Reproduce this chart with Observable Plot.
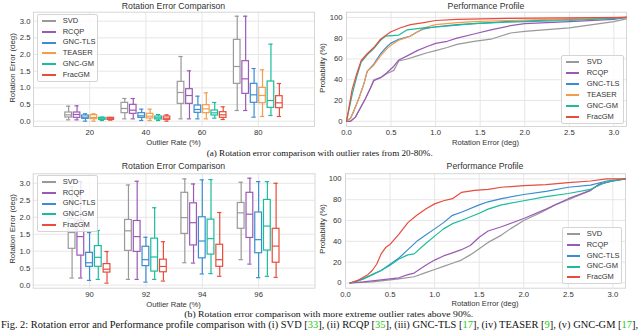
<!DOCTYPE html>
<html><head><meta charset="utf-8">
<script src="https://cdn.jsdelivr.net/npm/d3@7"></script>
<script src="https://cdn.jsdelivr.net/npm/@observablehq/plot@0.6"></script>
<style>
body{margin:0;background:#fff;}
#fig{position:relative;width:640px;height:331px;overflow:hidden;background:#fff;font-family:"Liberation Sans",Arial,sans-serif;color:#333;}
.pan{position:absolute;}
.pan svg{overflow:visible;}
.t{position:absolute;white-space:nowrap;transform:translate(-50%,-50%);line-height:1;}
.rot{transform:translate(-50%,-50%) rotate(-90deg);}
.leg{position:absolute;background:rgba(255,255,255,0.8);border:1px solid #d4d4d4;border-radius:2px;box-sizing:border-box;}
.leg .sw{position:absolute;height:1.5px;}
.leg .lt{position:absolute;font-size:7.5px;line-height:1;transform:translateY(-50%);color:#333;white-space:nowrap;}
#cap{position:absolute;left:0;top:0;}
</style></head>
<body><div id="fig"></div>
<script>
// ---------- data ----------
const methodsA = ["SVD","RCQP","GNC-TLS","TEASER","GNC-GM","FracGM"];
const colorsA = ["#999999","#9b59b6","#3a8dd0","#f39c4a","#1abc9c","#e74c3c"];
const methodsB = ["SVD","RCQP","GNC-TLS","GNC-GM","FracGM"];
const colorsB = ["#999999","#9b59b6","#3a8dd0","#1abc9c","#e74c3c"];
const ratesA = [20,40,60,80];
const ratesB = [90,92,94,96];
// box stats per rate: [min, q1, median, q3, max]
const svdA = [[0.04,0.11,0.19,0.26,0.45],[0.07,0.24,0.38,0.55,0.68],[0.07,0.52,0.86,1.18,1.94],[0.32,1.12,1.64,2.44,3.15]];
const rcqpA = [[0.04,0.10,0.20,0.26,0.46],[0.07,0.22,0.33,0.49,0.68],[0.07,0.52,0.77,0.96,1.51],[0.32,0.82,1.27,1.80,3.15]];
const tlsA = [[0.0,0.07,0.12,0.17,0.22],[0.02,0.10,0.16,0.24,0.36],[0.07,0.25,0.35,0.47,0.75],[0.12,0.55,0.79,1.12,1.58]];
const teaserA = [[0.0,0.06,0.11,0.18,0.22],[0.02,0.08,0.15,0.22,0.36],[0.07,0.24,0.37,0.48,0.85],[0.14,0.54,0.77,1.00,1.54]];
const gmA = [[0.02,0.04,0.07,0.10,0.12],[0.02,0.05,0.10,0.14,0.20],[0.09,0.17,0.25,0.32,0.56],[0.17,0.40,0.62,1.19,2.31]];
const fracA = [[0.03,0.04,0.07,0.10,0.11],[0.0,0.04,0.09,0.14,0.19],[0.05,0.10,0.19,0.27,0.43],[0.14,0.39,0.55,0.75,1.13]];
const svdB = [[0.21,1.07,1.55,1.95,2.90],[0.17,1.01,1.60,1.92,2.95],[0.66,1.51,1.99,2.72,3.13],[0.75,1.66,2.13,2.42,3.03]];
const rcqpB = [[0.21,0.87,1.43,1.90,3.05],[0.17,0.98,1.43,1.89,3.06],[0.65,1.17,1.84,2.41,2.98],[0.62,1.39,2.09,2.72,3.15]];
const tlsB = [[0.14,0.54,0.66,0.95,1.55],[0.09,0.56,0.75,1.13,1.41],[0.33,0.79,1.30,2.00,3.10],[0.22,0.94,1.34,2.14,3.05]];
const gmB = [[0.17,0.54,0.82,1.15,1.61],[0.17,0.40,0.83,1.37,2.28],[0.34,0.90,1.37,1.93,3.11],[0.26,1.02,1.74,2.51,3.05]];
const fracB = [[0.06,0.37,0.47,0.62,0.99],[0.12,0.38,0.55,0.75,1.28],[0.26,0.54,0.75,1.19,2.14],[0.23,0.66,1.15,1.66,3.00]];
// performance profiles: [rotation error (deg), probability (%)]
const svdP1 = [[0,0],[0.045,0],[0.10,4],[0.157,13],[0.213,22],[0.269,32],[0.306,40],[0.382,42],[0.456,46],[0.531,49],[0.587,58],[0.681,60],[0.793,63],[0.905,66],[1.0,68],[1.13,71],[1.24,74],[1.43,77],[1.62,79],[1.84,85],[2.0,86.5],[2.5,90],[3.0,96],[3.14,98.5]];
const rcqpP1 = [[0,0],[0.045,0],[0.10,4],[0.157,13],[0.213,22],[0.269,32],[0.306,39],[0.382,42],[0.456,47],[0.531,53],[0.587,59],[0.681,63],[0.793,68],[0.905,72],[1.0,75],[1.13,77],[1.24,80],[1.43,84],[1.62,88],[1.84,92],[2.0,94],[2.5,96],[3.0,98],[3.14,100]];
const tlsP1 = [[0,0],[0.045,3],[0.082,10],[0.138,22],[0.195,36],[0.232,48],[0.306,55],[0.382,65],[0.456,72],[0.494,75],[0.587,79],[0.718,82],[0.793,86],[0.868,89],[1.0,91],[1.24,93],[1.43,94],[1.8,96],[2.5,98],[3.14,100]];
const teaserP1 = [[0,0],[0.045,3],[0.082,10],[0.138,22],[0.195,36],[0.232,48],[0.306,54],[0.382,63],[0.456,70],[0.494,73],[0.587,78],[0.718,82],[0.793,86],[0.868,90],[1.0,93],[1.24,95],[1.43,96],[1.8,97],[2.5,98.5],[3.14,100]];
const gmP1 = [[0,0],[0.064,26],[0.112,42],[0.165,57],[0.232,64],[0.306,70],[0.382,78],[0.438,82],[0.587,83],[0.681,88],[0.868,90],[1.055,91],[1.43,94],[1.8,95.5],[2.0,96],[2.5,97],[3.0,99],[3.14,100]];
const fracP1 = [[0,0],[0.064,31],[0.112,45],[0.165,58.5],[0.232,65],[0.306,71],[0.382,79],[0.494,86],[0.606,90],[0.718,93],[0.868,95],[1.0,97],[1.24,98],[1.8,99],[3.14,100]];
const svdP2 = [[0.05,0],[0.3,1],[0.5,3],[0.6,4],[0.77,6],[0.9,10],[1.0,13],[1.1,16],[1.2,19],[1.3,22],[1.4,27],[1.5,33],[1.6,39],[1.75,46],[1.85,52],[2.0,60],[2.2,68],[2.35,75],[2.5,80],[2.75,89],[2.85,95],[3.0,98],[3.14,100]];
const rcqpP2 = [[0.05,0],[0.2,1],[0.3,2],[0.4,3],[0.5,4],[0.6,5],[0.7,8],[0.77,9.5],[0.9,17],[1.0,22],[1.1,26],[1.2,29],[1.3,32],[1.4,36],[1.5,44],[1.6,50],[1.75,54],[2.0,62],[2.25,71],[2.5,81],[2.75,89],[2.85,95],[3.0,98],[3.14,100]];
const tlsP2 = [[0.05,0],[0.1,1],[0.2,4],[0.3,8],[0.4,12],[0.5,18],[0.6,24],[0.7,32],[0.8,40],[0.9,46],[1.0,52],[1.1,58],[1.2,65],[1.3,68],[1.5,75],[1.6,78],[1.75,81],[2.0,85],[2.25,88],[2.5,92],[2.75,94],[2.93,98],[3.14,100]];
const gmP2 = [[0.05,0],[0.1,1],[0.2,4],[0.3,8],[0.4,12],[0.5,17],[0.6,23],[0.7,27],[0.77,28],[0.9,38],[1.0,45],[1.1,52],[1.2,57],[1.3,60],[1.5,67],[1.6,71],[1.75,75],[2.0,79],[2.25,83],[2.5,86],[2.75,90],[2.93,97],[3.14,100]];
const fracP2 = [[0.05,0],[0.15,3],[0.25,8],[0.3,12],[0.35,18],[0.4,28],[0.45,34],[0.5,37],[0.6,47],[0.7,58],[0.8,65],[0.9,71],[1.0,76],[1.1,79],[1.2,81],[1.3,87],[1.45,89],[1.6,90],[1.75,92],[2.0,93.5],[2.25,94.5],[2.5,96.5],[2.75,98],[2.93,100],[3.14,100]];
const boxTicks = [0,0.5,1.0,1.5,2.0,2.5,3.0];
const errTicks = [0,0.5,1.0,1.5,2.0,2.5,3.0];
const probTicks = [0,20,40,60,80,100];

// ---------- helpers ----------
const fig = document.getElementById("fig");
const baseStyle = {fontFamily:"Liberation Sans, Arial, sans-serif", fontSize:"7.7px", color:"#333", background:"transparent", overflow:"visible"};
const gridC = "#e6e6e6", frameC = "#d6d6d6";

function place(el, left, top){ const d=document.createElement("div"); d.className="pan"; d.style.left=left+"px"; d.style.top=top+"px"; d.appendChild(el); fig.appendChild(d); }
function text(str, x, y, size, rot){ const d=document.createElement("div"); d.className="t"+(rot?" rot":""); d.style.left=x+"px"; d.style.top=y+"px"; d.style.fontSize=size+"px"; d.textContent=str; fig.appendChild(d); }
function legend(methods, colors, left, top, w, sp, swL, swW, txL){
  const h = 7*2 + sp*(methods.length-1);
  const L=document.createElement("div"); L.className="leg";
  Object.assign(L.style,{left:Math.round(left)+"px",top:Math.round(top)+"px",width:Math.round(w)+"px",height:Math.round(h)+"px"});
  methods.forEach((m,i)=>{
    const cy = 7 + i*sp - 1;
    const s=document.createElement("div"); s.className="sw"; Object.assign(s.style,{left:Math.round(swL)+"px",width:Math.round(swW)+"px",top:Math.round(cy-0.75)+"px",background:colors[i]}); L.appendChild(s);
    const t=document.createElement("div"); t.className="lt"; Object.assign(t.style,{left:txL+"px",top:cy+"px"}); t.textContent=m; L.appendChild(t);
  });
  fig.appendChild(L);
}

function boxPanel(o){
  const n=o.methods.length, rows=[];
  o.stats.forEach((st,j)=>st.forEach((s,i)=>rows.push({method:o.methods[j], j, rate:o.rates[i], lo:s[0], q1:s[1], med:s[2], q3:s[3], hi:s[4]})));
  const xc = d => d.rate + (d.j-(n-1)/2)*o.step;
  const sw = 1.2;
  return Plot.plot({
    width:o.width, height:o.height, marginLeft:o.mL, marginRight:o.mR, marginTop:o.mT, marginBottom:o.mB,
    style: baseStyle,
    x:{domain:o.xDomain}, y:{domain:o.yDomain},
    color:{domain:o.methods, range:o.colors},
    marks:[
      Plot.gridX({ticks:o.rates, stroke:gridC, strokeOpacity:1}),
      Plot.gridY({ticks:boxTicks, stroke:gridC, strokeOpacity:1}),
      Plot.frame({stroke:frameC}),
      Plot.ruleX(rows,{x:xc, y1:"lo", y2:"q1", stroke:"method", strokeWidth:sw}),
      Plot.ruleX(rows,{x:xc, y1:"q3", y2:"hi", stroke:"method", strokeWidth:sw}),
      Plot.rect(rows,{x1:d=>xc(d)-o.bw/2, x2:d=>xc(d)+o.bw/2, y1:"q1", y2:"q3", fill:"white", stroke:"method", strokeWidth:sw}),
      Plot.ruleY(rows,{y:"med", x1:d=>xc(d)-o.bw/2, x2:d=>xc(d)+o.bw/2, stroke:"method", strokeWidth:sw}),
      Plot.ruleY(rows,{y:"lo", x1:d=>xc(d)-o.cap, x2:d=>xc(d)+o.cap, stroke:"method", strokeWidth:sw}),
      Plot.ruleY(rows,{y:"hi", x1:d=>xc(d)-o.cap, x2:d=>xc(d)+o.cap, stroke:"method", strokeWidth:sw}),
      Plot.axisX({ticks:o.rates, tickSize:0, tickPadding:3, label:null, tickFormat:d=>String(d)}),
      Plot.axisY({ticks:boxTicks, tickSize:0, tickPadding:3, label:null, tickFormat:d=>d.toFixed(1)})
    ]
  });
}

function cdfPanel(o){
  const rows=[];
  o.series.forEach((pts,j)=>pts.forEach(p=>rows.push({method:o.methods[j], x:p[0], y:p[1]})));
  return Plot.plot({
    width:o.width, height:o.height, marginLeft:o.mL, marginRight:o.mR, marginTop:o.mT, marginBottom:o.mB,
    style: baseStyle,
    x:{domain:[0,Math.PI]}, y:{domain:[-5,105]},
    color:{domain:o.methods, range:o.colors},
    marks:[
      Plot.gridX({ticks:errTicks, stroke:gridC, strokeOpacity:1}),
      Plot.gridY({ticks:probTicks, stroke:gridC, strokeOpacity:1}),
      Plot.frame({stroke:frameC}),
      Plot.line(rows,{x:"x", y:"y", z:"method", stroke:"method", strokeWidth:1.2}),
      Plot.axisX({ticks:errTicks, tickSize:0, tickPadding:3, label:null, tickFormat:d=>d.toFixed(1)}),
      Plot.axisY({ticks:probTicks, tickSize:0, tickPadding:4, label:null, tickFormat:d=>String(d)})
    ]
  });
}

// ---------- panels ----------
place(boxPanel({methods:methodsA, colors:colorsA, rates:ratesA, stats:[svdA,rcqpA,tlsA,teaserA,gmA,fracA],
  xDomain:[0,100], yDomain:[-0.16,3.27], step:3.0, bw:2.35, cap:0.75,
  width:320, height:150, mL:33, mR:6, mT:11.7, mB:24}), 0, 0);
place(boxPanel({methods:methodsB, colors:colorsB, rates:ratesB, stats:[svdB,rcqpB,tlsB,gmB,fracB],
  xDomain:[88,98], yDomain:[-0.09,3.28], step:0.31, bw:0.24, cap:0.075,
  width:320, height:140, mL:32.7, mR:5.5, mT:13.3, mB:12.3}), 0, 160);
place(cdfPanel({methods:methodsA, colors:colorsA, series:[svdP1,rcqpP1,tlsP1,teaserP1,gmP1,fracP1],
  width:320, height:150, mL:26, mR:14, mT:11.7, mB:24}), 320, 0);
place(cdfPanel({methods:methodsB, colors:colorsB, series:[svdP2,rcqpP2,tlsP2,gmP2,fracP2],
  width:320, height:140, mL:25, mR:15, mT:13.2, mB:12.3}), 320, 160);

// ---------- titles / labels ----------
text("Rotation Error Comparison", 173.5, 5.6, 8.7);
text("Performance Profile", 486, 5.6, 8.7);
text("Rotation Error Comparison", 173.5, 166, 8.7);
text("Performance Profile", 485, 166, 8.7);
text("Outlier Rate (%)", 173.5, 143.3, 7.6);
text("Outlier Rate (%)", 173.5, 305, 7.6);
text("Rotation Error (deg)", 485.5, 142.7, 7.6);
text("Rotation Error (deg)", 485, 304.3, 7.6);
text("Rotation Error (deg)", 12.7, 68, 7.9, true);
text("Rotation Error (deg)", 12.7, 229, 7.9, true);
text("Probability (%)", 323.3, 68, 7.6, true);
text("Probability (%)", 323.3, 229, 7.6, true);

// ---------- legends ----------
legend(methodsA, colorsA, 37, 14, 61, 10.7, 3.7, 14.3, 24.7);
legend(methodsB, colorsB, 37, 175, 61, 10.7, 3.7, 14.3, 24.7);
legend(methodsA, colorsA, 560.7, 55, 63.3, 10.9, 4.3, 13, 24.7);
legend(methodsB, colorsB, 561.7, 227, 60, 10.8, 3.5, 13, 23.7);

// ---------- captions ----------
const NS="http://www.w3.org/2000/svg";
const cap=document.createElementNS(NS,"svg"); cap.setAttribute("id","cap"); cap.setAttribute("width",640); cap.setAttribute("height",331);
function capText(parts, x, y, size, len){
  const t=document.createElementNS(NS,"text");
  t.setAttribute("x",x); t.setAttribute("y",y); t.setAttribute("font-family","Liberation Serif, Times New Roman, serif");
  t.setAttribute("font-size",size); t.setAttribute("fill","#111");
  t.setAttribute("textLength",len); t.setAttribute("lengthAdjust","spacingAndGlyphs");
  parts.forEach(p=>{ const s=document.createElementNS(NS,"tspan"); s.textContent=p[0]; if(p[1]) s.setAttribute("fill",p[1]); t.appendChild(s); });
  cap.appendChild(t);
}
const G="#19c819";
capText([["(a) Rotation error comparison with outlier rates from 20-80%."]], 206.7, 155.5, 8.5, 226);
capText([["(b) Rotation error comparison with more extreme outlier rates above 90%."]], 184.3, 316.9, 8.5, 289);
capText([["Fig. 2: Rotation error and Performance profile comparison with (i) SVD ["],["33",G],["], (ii) RCQP ["],["35",G],["], (iii) GNC-TLS ["],["17",G],["], (iv) TEASER ["],["9",G],["], (v) GNC-GM ["],["17",G],["],"]], 1, 327.5, 9.6, 637);
fig.appendChild(cap);
</script>
</body></html>
